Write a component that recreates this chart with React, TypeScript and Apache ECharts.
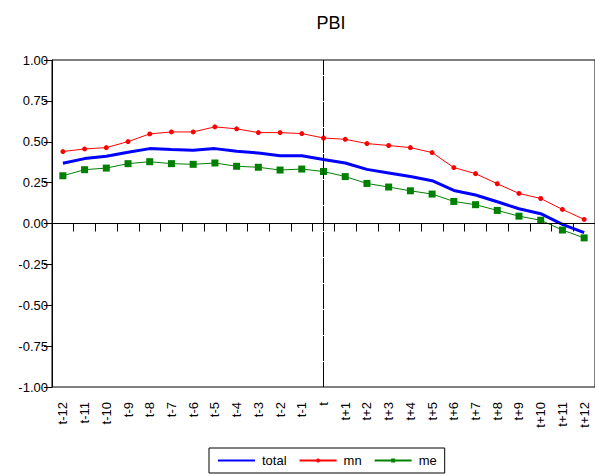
import React, { useEffect, useRef } from "react";
import * as echarts from "echarts";

// Horizon labels: t-12 ... t ... t+12
const categories: string[] = [
  "t-12", "t-11", "t-10", "t-9", "t-8", "t-7", "t-6", "t-5", "t-4", "t-3", "t-2", "t-1",
  "t",
  "t+1", "t+2", "t+3", "t+4", "t+5", "t+6", "t+7", "t+8", "t+9", "t+10", "t+11", "t+12",
];

const totalValues: number[] = [
  0.368, 0.397, 0.411, 0.436, 0.458, 0.452, 0.448, 0.458, 0.442, 0.431, 0.415, 0.415,
  0.392,
  0.37, 0.331, 0.309, 0.287, 0.262, 0.202, 0.174, 0.133, 0.09, 0.06, -0.005, -0.056,
];

const mnValues: number[] = [
  0.44, 0.456, 0.464, 0.501, 0.548, 0.56, 0.56, 0.591, 0.579, 0.556, 0.556, 0.55,
  0.523,
  0.515, 0.489, 0.477, 0.464, 0.434, 0.342, 0.305, 0.243, 0.184, 0.153, 0.086, 0.025,
];

const meValues: number[] = [
  0.292, 0.329, 0.339, 0.366, 0.378, 0.366, 0.362, 0.37, 0.35, 0.344, 0.327, 0.333,
  0.318,
  0.287, 0.245, 0.223, 0.2, 0.18, 0.135, 0.115, 0.08, 0.045, 0.02, -0.04, -0.088,
];

const yMin = -1;
const yMax = 1;
const yStep = 0.25;

const FONT = "'Liberation Sans', Arial, sans-serif";

export default function App() {
  const ref = useRef<HTMLDivElement>(null);

  useEffect(() => {
    if (!ref.current) return;
    const chart = echarts.init(ref.current, undefined, { renderer: "svg" });

    // zero line and the vertical line at "t"
    const crossStyle = {
      color: "#000",
      width: 1,
      type: [25, 1] as any,
    };

    chart.setOption({
      animation: false,
      backgroundColor: "#fff",
      textStyle: { fontFamily: FONT, color: "#000" },
      title: {
        text: "PBI",
        left: 326,
        textAlign: "center",
        top: 9,
        textStyle: { fontFamily: FONT, fontSize: 18, fontWeight: "normal", color: "#000" },
      },
      grid: {
        left: 52,
        top: 60,
        width: 548,
        height: 327,
        show: true,
        borderColor: "#000",
        borderWidth: 1,
        backgroundColor: "transparent",
      },
      legend: {
        left: 209,
        top: 448,
        orient: "horizontal",
        itemWidth: 37,
        itemHeight: 5,
        itemGap: 12,
        padding: [6, 8, 6, 8],
        borderColor: "#000",
        borderWidth: 1,
        textStyle: { fontFamily: FONT, fontSize: 13, color: "#000", padding: [0, 0, 0, 2] },
        data: [
          { name: "total", itemStyle: { opacity: 0 } },
          { name: "mn" },
          { name: "me" },
        ],
      },
      xAxis: {
        type: "category",
        data: categories,
        boundaryGap: true,
        axisLine: { show: true, lineStyle: { color: "#000", width: 1 } },
        axisTick: { show: true, length: 8, interval: 0, alignWithLabel: false, lineStyle: { color: "#000" } },
        axisLabel: {
          interval: 0,
          rotate: 90,
          margin: 15,
          fontSize: 13,
          fontFamily: FONT,
          color: "#000",
        },
        splitLine: { show: false },
      },
      yAxis: {
        type: "value",
        min: yMin,
        max: yMax,
        interval: yStep,
        axisLine: { show: true, lineStyle: { color: "#000", width: 1 } },
        axisTick: { show: true, length: 8, lineStyle: { color: "#000" } },
        axisLabel: {
          margin: 4,
          fontSize: 13,
          fontFamily: FONT,
          color: "#000",
          formatter: (v: number) => v.toFixed(2),
        },
        splitLine: { show: false },
      },
      series: [
        {
          name: "total",
          type: "line",
          data: totalValues,
          symbol: "none",
          color: "#0000ff",
          lineStyle: { color: "#0000ff", width: 3 },
          z: 2,
          markLine: {
            silent: true,
            symbol: "none",
            label: { show: false },
            lineStyle: crossStyle,
            data: [{ yAxis: 0 }, { xAxis: "t" }],
          },
        },
        {
          name: "mn",
          type: "line",
          data: mnValues,
          symbol: "circle",
          symbolSize: 5,
          showSymbol: true,
          color: "#ff0000",
          itemStyle: { color: "#ff0000" },
          lineStyle: { color: "#ff0000", width: 1 },
          z: 3,
        },
        {
          name: "me",
          type: "line",
          data: meValues,
          symbol: "rect",
          symbolSize: 7,
          showSymbol: true,
          color: "#008000",
          itemStyle: { color: "#008000" },
          lineStyle: { color: "#008000", width: 1 },
          z: 4,
        },
      ],
    });

    return () => {
      chart.dispose();
    };
  }, []);

  return (
    <div
      ref={ref}
      style={{ position: "fixed", left: 0, top: 0, width: 595, height: 474, background: "#fff" }}
    />
  );
}
